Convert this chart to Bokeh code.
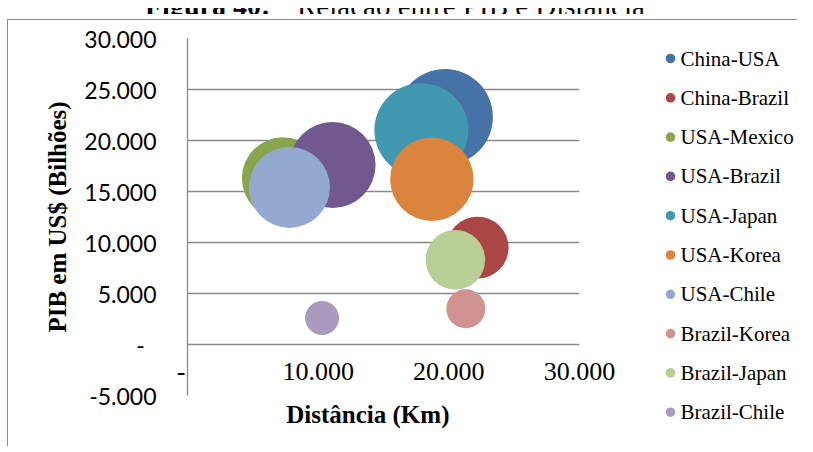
import math
from bokeh.plotting import figure
from bokeh.models import (FixedTicker, ColumnDataSource, Div, Range1d)
from bokeh.layouts import column, row
from bokeh.core.properties import value
from bokeh.embed import file_html
from bokeh.resources import INLINE

# ---- data ----
pairs = ["China-USA", "China-Brazil", "USA-Mexico", "USA-Brazil", "USA-Japan",
         "USA-Korea", "USA-Chile", "Brazil-Korea", "Brazil-Japan", "Brazil-Chile"]
distance_km = [19700, 22200, 7300, 11100, 17900, 18700, 7800, 21300, 20500, 10300]
pib_bilhoes = [22300, 9500, 16300, 17600, 21000, 16200, 15400, 3500, 8300, 2600]
bubble_size = [100.0, 41.7, 73.0, 80.3, 95.9, 75.5, 71.2, 16.5, 38.5, 12.5]
colors = ["#4572A7", "#AA4643", "#89A54E", "#71588F", "#4198AF",
          "#DB843D", "#93A9CF", "#D19392", "#B9CD96", "#A99BBD"]

x_ticks = [0, 10000, 20000, 30000]
x_tick_labels = ["-", "10.000", "20.000", "30.000"]
y_ticks = [-5000, 0, 5000, 10000, 15000, 20000, 25000, 30000]
y_tick_labels = ["-5.000", "-", "5.000", "10.000", "15.000", "20.000", "25.000", "30.000"]

title_bold = "Figura 40:"
title_text = "Relação entre PIB e Distância"
x_title = "Distância (Km)"
y_title = "PIB em US$ (Bilhões)"

# ---- styling ----
MAX_D = 96
diam = [MAX_D * math.sqrt(s / max(bubble_size)) for s in bubble_size]
GRID = "#8a8a8a"
NB = "\u00a0"
CANVAS_H = 426

src = ColumnDataSource(dict(x=distance_km, y=pib_bilhoes, d=diam, color=colors, pair=pairs))

p = figure(frame_width=392, frame_height=357, output_backend="svg", toolbar_location=None,
           x_range=Range1d(0, 30000), y_range=Range1d(-5000, 30000),
           min_border_left=179, min_border_right=40, min_border_top=18, min_border_bottom=51)
p.outline_line_color = None
p.background_fill_color = "white"
p.border_fill_color = "white"

r = p.scatter("x", "y", size="d", fill_color="color", line_color=None, source=src)

# grid
p.xgrid.visible = False
p.ygrid.ticker = FixedTicker(ticks=y_ticks)
p.ygrid.grid_line_color = GRID
p.ygrid.grid_line_width = 1.3

# y axis
ya = p.yaxis[0]
ya.ticker = FixedTicker(ticks=y_ticks)
ov = {}
for t, l in zip(y_ticks, y_tick_labels):
    ov[t] = l + NB * 2 if l == "-" else l
ya.major_label_overrides = ov
ya.major_tick_in = 0
ya.major_tick_out = 0
ya.minor_tick_in = 0
ya.minor_tick_out = 0
ya.axis_line_color = GRID
ya.axis_line_width = 1.3
ya.major_label_standoff = 31
ya.major_label_text_font = "Lato"
ya.major_label_text_font_size = "23px"
ya.major_label_text_color = "black"
ya.axis_label = y_title
ya.axis_label_text_font = "Liberation Serif"
ya.axis_label_text_font_style = "bold"
ya.axis_label_text_font_size = "25px"
ya.axis_label_text_color = "black"
ya.axis_label_standoff = 10

# x axis (labels sit next to y = 0, i.e. inside the plot area)
xa = p.xaxis[0]
xa.ticker = FixedTicker(ticks=x_ticks)
xov = {}
for t, l in zip(x_ticks, x_tick_labels):
    xov[t] = l + NB * 2 if l == "-" else l
xa.major_label_overrides = xov
xa.axis_line_color = None
xa.major_tick_in = 0
xa.major_tick_out = 0
xa.minor_tick_in = 0
xa.minor_tick_out = 0
xa.major_label_standoff = -39
xa.major_label_text_font = "Liberation Serif"
xa.major_label_text_font_size = "26px"
xa.major_label_text_color = "black"
xa.axis_label = x_title + NB * 5
xa.axis_label_text_font = "Liberation Serif"
xa.axis_label_text_font_style = "bold"
xa.axis_label_text_font_size = "25px"
xa.axis_label_text_color = "black"
xa.axis_label_standoff = 12

# legend panel (separate canvas to the right, y measured in pixels from the top)
LEG_W = 178
leg = figure(frame_width=LEG_W, frame_height=CANVAS_H, output_backend="svg",
             toolbar_location=None, x_axis_type=None, y_axis_type=None,
             x_range=Range1d(0, LEG_W), y_range=Range1d(CANVAS_H, 0),
             min_border=0, min_border_left=0, min_border_right=0,
             min_border_top=0, min_border_bottom=0)
leg.outline_line_color = None
leg.grid.visible = False
leg.background_fill_color = "white"
leg.border_fill_color = "white"
row_y = [20 + 39.3 * i for i in range(len(pairs))]
lsrc = ColumnDataSource(dict(gx=[51] * len(pairs), tx=[61] * len(pairs), y=row_y,
                             color=colors, label=pairs))
leg.scatter("gx", "y", size=9.6, fill_color="color", line_color=None, source=lsrc)
leg.text("tx", "y", text="label", source=lsrc, text_font=value("Liberation Serif"),
         text_font_size="21px", text_baseline="middle", text_align="left", text_color="black")

body = row(p, leg, spacing=0,
           styles={"border-top": "1px solid #8c8c8c", "border-left": "1px solid #8c8c8c",
                   "margin-left": "7px"})

title_html = (
    '<div style="position:relative;width:797px;height:9px;overflow:hidden;">'
    '<span style="position:absolute;left:140px;top:-16px;white-space:nowrap;'
    'font-family:\'Liberation Serif\';font-weight:bold;font-size:28px;line-height:28px;color:black;">'
    + title_bold + '</span>'
    '<span style="position:absolute;left:292px;top:-16px;white-space:nowrap;'
    'font-family:\'Liberation Serif\';font-size:29px;line-height:28px;color:black;">'
    + title_text + '</span></div>'
)
title_div = Div(text=title_html, width=797, height=9, styles={"overflow": "hidden"})

layout = column(title_div, body, spacing=0)

open("out.html", "w").write(file_html(layout, INLINE))
